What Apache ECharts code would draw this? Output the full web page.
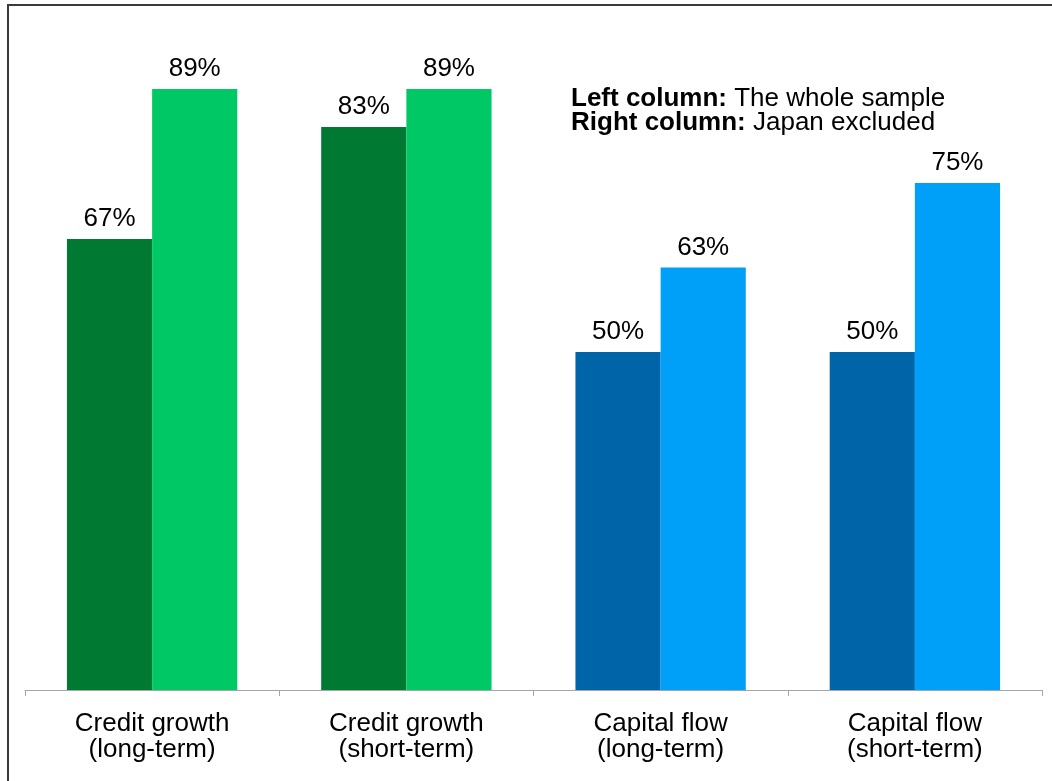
<!DOCTYPE html>
<html>
<head>
<meta charset="utf-8">
<script src="https://cdn.jsdelivr.net/npm/echarts@6/dist/echarts.min.js"></script>
<style>
  html, body { margin: 0; padding: 0; background: #fff; }
  #chart { width: 1052px; height: 781px; position: relative; }
  #frame {
    position: absolute; left: 7px; top: 4px; width: 1100px; height: 900px;
    border-left: 2px solid #3a3a3a; border-top: 2px solid #3a3a3a;
    pointer-events: none;
  }
</style>
</head>
<body>
<div id="chart"></div>
<div id="frame"></div>
<script>
// categories on the x axis
const categories = [
    'Credit growth\n(long-term)',
    'Credit growth\n(short-term)',
    'Capital flow\n(long-term)',
    'Capital flow\n(short-term)'
]

// share of cases, %
const wholeSample = [66.7, 83.3, 50, 50]
const japanExcluded = [88.9, 88.9, 62.5, 75]

const darkColors = ['#007A33', '#007A33', '#0064A8', '#0064A8']
const lightColors = ['#00C864', '#00C864', '#00A0F8', '#00A0F8']

const FONT = '"Liberation Sans", Arial, sans-serif'

let withColors = (vals, colors) => vals.map((v, i) => ({value: v, itemStyle: {color: colors[i]}}))

let barLabel = {
    show: true,
    position: 'top',
    distance: 7,
    color: '#000',
    fontFamily: FONT,
    fontSize: 26,
    formatter: (p) => Math.round(p.value) + '%'
}

let chart = echarts.init(document.getElementById('chart'), null, {renderer: 'canvas'})

chart.setOption({
    animation: false,
    backgroundColor: '#fff',
    title: {
        left: 566,
        top: 82,
        text: '{b|Left column:} The whole sample\n{b|Right column:} Japan excluded',
        textStyle: {
            fontFamily: FONT,
            fontSize: 26,
            fontWeight: 'normal',
            color: '#000',
            lineHeight: 24,
            rich: {
                b: {fontFamily: FONT, fontSize: 26, fontWeight: 'bold', color: '#000', lineHeight: 24}
            }
        }
    },
    grid: {left: 25, right: 10, top: 14, bottom: 91, containLabel: false},
    xAxis: {
        type: 'category',
        data: categories,
        axisLine: {lineStyle: {color: '#a6a6a6', width: 1}},
        axisTick: {show: true, length: 6, lineStyle: {color: '#a6a6a6'}},
        axisLabel: {
            color: '#000',
            fontFamily: FONT,
            fontSize: 26,
            lineHeight: 26,
            margin: 21,
            interval: 0
        }
    },
    yAxis: {
        type: 'value',
        min: 0,
        max: 100,
        show: false,
        splitLine: {show: false}
    },
    series: [
        {
            name: 'The whole sample',
            type: 'bar',
            data: withColors(wholeSample, darkColors),
            barGap: '0%',
            barCategoryGap: '33%',
            label: barLabel
        },
        {
            name: 'Japan excluded',
            type: 'bar',
            data: withColors(japanExcluded, lightColors),
            barGap: '0%',
            barCategoryGap: '33%',
            label: barLabel
        }
    ]
})
</script>
</body>
</html>
